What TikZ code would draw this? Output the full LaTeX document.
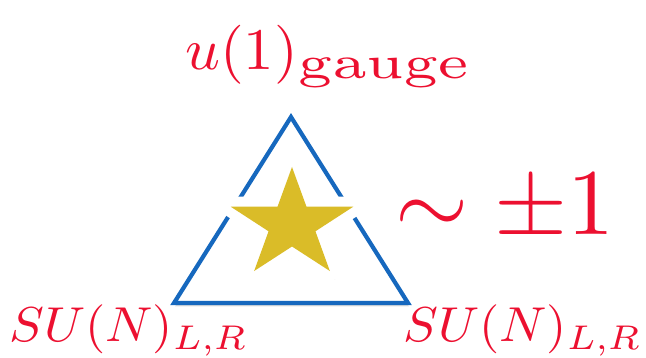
\documentclass[tikz,border=0pt]{standalone}
\usepackage{amsmath}
\usepackage{graphicx}
\definecolor{lred}{RGB}{236,16,48}
\definecolor{lblue}{RGB}{22,104,190}
\definecolor{lgold}{RGB}{218,188,40}
\tikzset{
  lbl/.style={text=lred, inner sep=0pt, anchor=base west},
}
\begin{document}
\begin{tikzpicture}[x=1pt,y=-1pt]
\useasboundingbox (0,0) rectangle (646,358);
% triangle
\coordinate (T) at (291,117);
\coordinate (L) at (174,303);
\coordinate (R) at (408,303);
\fill[black!40, opacity=0.35] ([shift={(1,3.5)}]T) -- ([shift={(1,3.5)}]L) -- ([shift={(1,3.5)}]R) -- cycle;
\draw[lblue, line width=4.2pt, line join=miter, fill=white] (T) -- (L) -- (R) -- cycle;
% star
\begin{scope}[shift={(292,224.5)}, xscale=1.12]
  \fill[black, opacity=0.22, shift={(2,5)}]
    (-90:62) -- (-54:27) -- (-18:62) -- (18:27) -- (54:62) -- (90:27)
    -- (126:62) -- (162:27) -- (198:62) -- (234:27) -- cycle;
  \draw[white, line width=20pt, line join=round, fill=white]
    (-90:57.5) -- (-54:22) -- (-18:57.5) -- (18:22) -- (54:57.5) -- (90:22)
    -- (126:57.5) -- (162:22) -- (198:57.5) -- (234:22) -- cycle;
  \fill[lgold]
    (-90:57.5) -- (-54:22) -- (-18:57.5) -- (18:22) -- (54:57.5) -- (90:22)
    -- (126:57.5) -- (162:22) -- (198:57.5) -- (234:22) -- cycle;
\end{scope}
% labels
\node[lbl] (top) at (185,70) {\scalebox{6.1}[5.9]{$u(1)_{\scalebox{1.4}[1.12]{$\scriptstyle\mathrm{gauge}$}}$}};
\node[lbl] (chg) at (395,235) {\scalebox{9.4}{$\sim\pm1$}};
\node[lbl] (sul) at (9,342) {\scalebox{5.2}[4.9]{$SU(N)_{L,R}$}};
\node[lbl] (sur) at (403,342) {\scalebox{5.2}[4.9]{$SU(N)_{L,R}$}};
\end{tikzpicture}
\end{document}
